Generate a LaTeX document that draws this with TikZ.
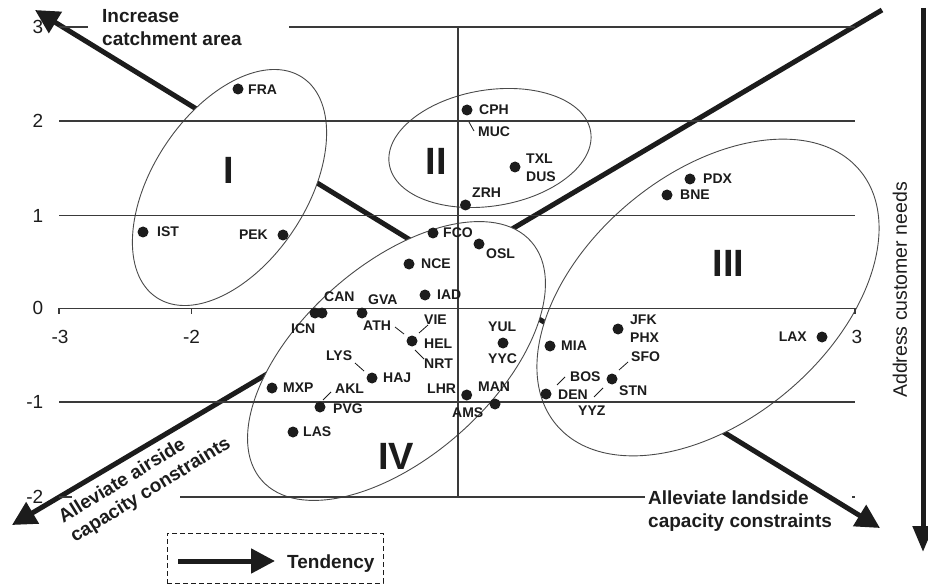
\documentclass[tikz,border=0pt]{standalone}
\usepackage{fontspec}
\setmainfont{Liberation Sans}
\usetikzlibrary{arrows.meta}
\definecolor{ink}{HTML}{1C1C1C}
\definecolor{gridc}{HTML}{3A3A3A}
\definecolor{ellc}{HTML}{4A4A4A}
\begin{document}
\begin{tikzpicture}[x=1pt,y=-1pt,
  lbl/.style={font=\fontsize{14}{16}\selectfont\bfseries, text=ink, inner sep=0pt, anchor=west},
  lble/.style={lbl, anchor=east},
  apt/.style={circle, fill=ink, inner sep=0pt, minimum size=11pt},
  tickl/.style={font=\fontsize{19}{22}\selectfont, text=ink, inner sep=0pt},
  note/.style={font=\fontsize{19}{22.5}\selectfont\bfseries, text=ink, inner sep=0pt, align=left},
  roman/.style={font=\fontsize{38}{40}\selectfont\bfseries, text=ink, inner sep=0pt},
  gline/.style={draw=gridc, line width=1.1pt},
  cluster/.style={draw=ellc, line width=0.9pt, fill=white},
  leader/.style={draw=ink, line width=0.8pt},
  bigarrow/.style={draw=ink, line width=5pt},
  bighead/.style={-{Triangle[length=24pt,width=24pt]}},
]
\useasboundingbox (0,0) rectangle (928,585);

% tick labels (below the arrows)
\node[tickl, anchor=east] (y3) at (43.5,27) {3};
\node[tickl, anchor=east] (y2) at (43.5,121) {2};
\node[tickl, anchor=east] (y1) at (43.5,215.5) {1};
\node[tickl, anchor=east] (y0) at (43.5,308.3) {0};
\node[tickl, anchor=east] (ym1) at (43.5,402) {-1};
\node[tickl, anchor=east] (ym2) at (43.5,497) {-2};
\node[tickl] (xm3) at (60,337) {-3};
\node[tickl] (xm2) at (191.5,337) {-2};
\node[tickl] (x3) at (857,337) {3};

% tendency arrows
\coordinate (ulTip) at (35,10);
\coordinate (lrTip) at (880,528);
\coordinate (llTip) at (12,525);
\coordinate (urEnd) at (882,10);
\draw[bigarrow, {Triangle[length=24pt,width=24pt]}-{Triangle[length=24pt,width=24pt]}] (ulTip) -- (lrTip);
\draw[bigarrow, bighead] (urEnd) -- (llTip);

% clusters
\coordinate (cI) at (229.5,187.5);
\coordinate (cII) at (490,148);
\coordinate (cIII) at (708,297.5);
\coordinate (cIV) at (396.5,361);
\draw[cluster, rotate around={56.5:(cI)}] (cI) ellipse [x radius=132, y radius=77];
\draw[cluster, rotate around={9.2:(cII)}] (cII) ellipse [x radius=102, y radius=58];
\draw[cluster, rotate around={40:(cIII)}] (cIII) ellipse [x radius=198, y radius=123];
\draw[cluster, rotate around={41.6:(cIV)}] (cIV) ellipse [x radius=180, y radius=96];

% grid
\draw[gline] (59,27) -- (88,27) (289,27) -- (855,27);
\draw[gline] (59,121) -- (855,121);
\draw[gline] (59,215.5) -- (855,215.5);
\draw[gline] (59,308.3) -- (855,308.3);
\draw[gline] (59,402) -- (855,402);
\draw[gline] (59,497) -- (72,497) (180,497) -- (645,497) (852,497) -- (855,497);
\draw[gline] (458,27) -- (458,497);
\draw[gline] (59,308.3) -- (59,314) (191.5,308.3) -- (191.5,314) (855,308.3) -- (855,314);

% roman numerals
\node[roman] (rI) at (229,170) {I};
\node[roman] (rII) at (436.5,161.5) {II};
\node[roman] (rIII) at (728.5,263) {III};
\node[roman] (rIV) at (396,456.5) {IV};

% airports
\node[apt] (dFRA) at (238,89) {};   \node[lbl] (FRA) at (248,90) {FRA};
\node[apt] (dCPH) at (467,110) {};  \node[lbl] (CPH) at (479,110) {CPH};
\node[lbl] (MUC) at (478,132) {MUC};
\node[apt] (dTXL) at (515,167) {};  \node[lbl] (TXL) at (526,159) {TXL};
\node[lbl] (DUS) at (526,177) {DUS};
\node[apt] (dZRH) at (465.5,205) {}; \node[lbl] (ZRH) at (472,193) {ZRH};
\node[apt] (dPDX) at (690,179) {};  \node[lbl] (PDX) at (703,179) {PDX};
\node[apt] (dBNE) at (667,195) {};  \node[lbl] (BNE) at (680,195) {BNE};
\node[apt] (dIST) at (143,232) {};  \node[lbl] (IST) at (157,232) {IST};
\node[apt] (dPEK) at (283,235) {};  \node[lble] (PEK) at (268,235) {PEK};
\node[apt] (dFCO) at (433,233) {};  \node[lbl] (FCO) at (443,233) {FCO};
\node[apt] (dOSL) at (479,244) {};  \node[lbl] (OSL) at (486,254) {OSL};
\node[apt] (dNCE) at (409,264) {};  \node[lbl] (NCE) at (421,264) {NCE};
\node[apt] (dIAD) at (425,295) {};  \node[lbl] (IAD) at (437,295) {IAD};
\node[apt] (dICN) at (315,313) {};  \node[lbl] (ICN) at (291,329) {ICN};
\node[apt] (dCAN) at (322,313) {};  \node[lbl] (CAN) at (324,297) {CAN};
\node[apt] (dGVA) at (362,313) {};  \node[lbl] (GVA) at (368,300) {GVA};
\node[lbl] (ATH) at (363,326) {ATH};
\node[lbl] (VIE) at (424,320) {VIE};
\node[apt] (dHEL) at (412,341) {};  \node[lbl] (HEL) at (424,344) {HEL};
\node[lbl] (NRT) at (424,364) {NRT};
\node[lbl] (LYS) at (326,356) {LYS};
\node[apt] (dHAJ) at (372,378) {};  \node[lbl] (HAJ) at (383,378) {HAJ};
\node[apt] (dMXP) at (272,388) {};  \node[lbl] (MXP) at (283,388) {MXP};
\node[lbl] (AKL) at (335,389) {AKL};
\node[apt] (dPVG) at (320,407) {};  \node[lbl] (PVG) at (333,409) {PVG};
\node[apt] (dLAS) at (293,432) {};  \node[lbl] (LAS) at (303,432) {LAS};
\node[apt] (dLHR) at (466.7,395) {}; \node[lbl] (LHR) at (427,389) {LHR};
\node[lbl] (AMS) at (452,413) {AMS};
\node[apt] (dMAN) at (495,404) {};  \node[lbl] (MAN) at (478,387) {MAN};
\node[apt] (dYUL) at (503,343) {};  \node[lbl] (YUL) at (488,327) {YUL};
\node[lbl] (YYC) at (488,359) {YYC};
\node[apt] (dMIA) at (550,346) {};  \node[lbl] (MIA) at (561,346) {MIA};
\node[apt] (dJFK) at (618,329) {};  \node[lbl] (JFK) at (630,320) {JFK};
\node[lbl] (PHX) at (630,338) {PHX};
\node[lbl] (SFO) at (631,357) {SFO};
\node[apt] (dSTN) at (612,379) {};  \node[lbl] (STN) at (619,391) {STN};
\node[lbl] (BOS) at (570,377) {BOS};
\node[apt] (dDEN) at (546,394) {};  \node[lbl] (DEN) at (558,395) {DEN};
\node[lbl] (YYZ) at (578,411) {YYZ};
\node[apt] (dLAX) at (822,337) {};  \node[lble] (LAX) at (807,337) {LAX};

% leader lines
\coordinate (mucA) at (469,122); \coordinate (mucB) at (474,131);
\coordinate (athA) at (395,327); \coordinate (athB) at (404,334);
\coordinate (vieA) at (419,333); \coordinate (vieB) at (428,325);
\coordinate (nrtA) at (415,350); \coordinate (nrtB) at (424,359);
\coordinate (lysA) at (355,363); \coordinate (lysB) at (364,371);
\coordinate (aklA) at (323,400); \coordinate (aklB) at (331,392);
\coordinate (sfoA) at (619,370); \coordinate (sfoB) at (628,362);
\coordinate (bosA) at (557,385); \coordinate (bosB) at (565,377);
\coordinate (yyzA) at (594,397); \coordinate (yyzB) at (603,388);
\draw[leader] (mucA) -- (mucB);
\draw[leader] (athA) -- (athB);
\draw[leader] (vieA) -- (vieB);
\draw[leader] (nrtA) -- (nrtB);
\draw[leader] (lysA) -- (lysB);
\draw[leader] (aklA) -- (aklB);
\draw[leader] (sfoA) -- (sfoB);
\draw[leader] (bosA) -- (bosB);
\draw[leader] (yyzA) -- (yyzB);

% annotations
\node[note, anchor=west] (catch) at (102,27.5) {Increase\\catchment area};
\node[note, rotate=31.5] (airside) at (145,481) {Alleviate airside\\capacity constraints};
\node[note, anchor=west] (landside) at (648,511) {Alleviate landside\\capacity constraints};
\node[font=\fontsize{19.5}{22}\selectfont, text=ink, inner sep=0pt, rotate=90] (needs) at (900,290) {Address customer needs};
\coordinate (vTop) at (923,8);
\coordinate (vTip) at (923,552);
\draw[bigarrow, -{Triangle[length=26pt,width=20pt]}] (vTop) -- (vTip);

% legend
\node[draw=ink, dashed, dash pattern=on 5pt off 3pt, line width=0.8pt, minimum width=216pt, minimum height=50pt, inner sep=0pt] (legend) at (275,558) {};
\coordinate (legA) at (178,561);
\coordinate (legB) at (275,561);
\draw[bigarrow, bighead] (legA) -- (legB);
\node[note, anchor=base west] (tend) at (287,568) {Tendency};
\end{tikzpicture}
\end{document}
